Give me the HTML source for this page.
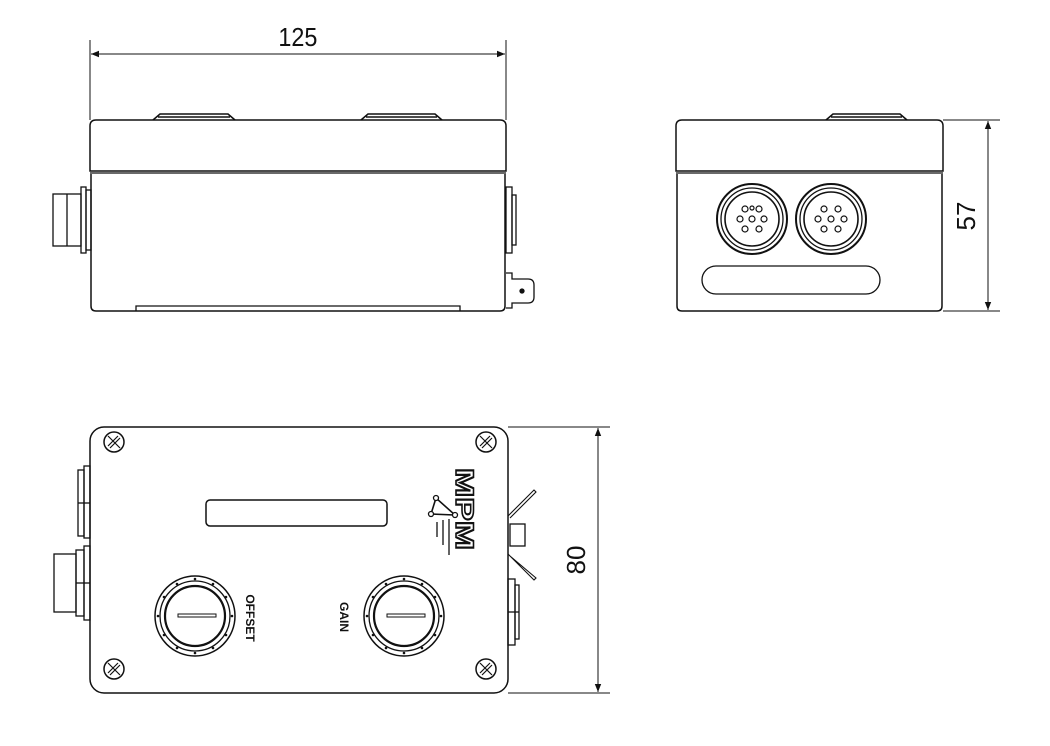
<!DOCTYPE html>
<html><head><meta charset="utf-8"><style>html,body{margin:0;padding:0;background:#fff}svg{display:block}</style></head>
<body>
<svg width="1050" height="746" viewBox="0 0 1050 746" xmlns="http://www.w3.org/2000/svg" fill="none" stroke="#111" stroke-width="1.3">
<defs>
<marker id="a" viewBox="0 0 10 10" refX="10" refY="5" markerWidth="12" markerHeight="8" orient="auto-start-reverse" markerUnits="userSpaceOnUse"><path d="M0,1 L10,5 L0,9 Z" fill="#111" stroke="none"/></marker>
</defs>
<!-- SIDE VIEW -->
<line x1="90" y1="40" x2="90" y2="120" stroke-width="1"/>
<line x1="506" y1="40" x2="506" y2="120" stroke-width="1"/>
<line x1="91" y1="54" x2="505" y2="54" stroke-width="1" marker-start="url(#a)" marker-end="url(#a)"/>
<text x="298" y="46" font-family="Liberation Sans, sans-serif" font-size="26" fill="#111" stroke="none" text-anchor="middle" transform="scale(0.9,1) translate(33,0)">125</text>
<path d="M153,120 L160,114 L228,114 L235,120 M158,117 H230 M361,120 L368,114 L435,114 L442,120 M366,117 H437" stroke-width="1.6"/>
<path d="M96,120 H500 Q506,120 506,126 V171 H90 V126 Q90,120 96,120 Z" stroke-width="1.5"/>
<line x1="90" y1="173" x2="506" y2="173"/>
<path d="M91,174 V306 Q91,311 96,311 H500 Q505,311 505,306 V174" stroke-width="1.5"/>
<path d="M136,311 V306 H460 V311"/>
<rect x="53" y="194" width="28" height="52"/><line x1="67" y1="194" x2="67" y2="246"/>
<rect x="81" y="187" width="5" height="66"/><rect x="86" y="190" width="5" height="60"/>
<rect x="506" y="187" width="6" height="66"/><rect x="512" y="195" width="4" height="50"/>
<path d="M506,273 H512 V279 H528 Q534,279 534,285 V297 Q534,303 528,303 H512 V308 H506"/>
<circle cx="522" cy="291" r="2" fill="#111"/>
<!-- FRONT VIEW -->
<path d="M826,120 L833,114 L900,114 L907,120 M831,117 H902" stroke-width="1.6"/>
<path d="M682,120 H937 Q943,120 943,126 V171 H676 V126 Q676,120 682,120 Z" stroke-width="1.5"/>
<line x1="676" y1="173" x2="943" y2="173"/>
<path d="M677,174 V306 Q677,311 682,311 H937 Q942,311 942,306 V174" stroke-width="1.5"/>
<circle cx="752" cy="219" r="35" stroke-width="2"/><circle cx="752" cy="219" r="31"/><circle cx="752" cy="219" r="27" stroke-width="1.6"/>
<circle cx="831" cy="219" r="35" stroke-width="2"/><circle cx="831" cy="219" r="31"/><circle cx="831" cy="219" r="27" stroke-width="1.6"/>
<g stroke-width="1.2">
<circle cx="752" cy="219" r="3"/><circle cx="745" cy="209" r="3"/><circle cx="759" cy="209" r="3"/><circle cx="740" cy="219" r="3"/><circle cx="764" cy="219" r="3"/><circle cx="745" cy="229" r="3"/><circle cx="759" cy="229" r="3"/><circle cx="752" cy="208" r="2"/>
<circle cx="831" cy="219" r="3"/><circle cx="824" cy="209" r="3"/><circle cx="838" cy="209" r="3"/><circle cx="818" cy="219" r="3"/><circle cx="844" cy="219" r="3"/><circle cx="824" cy="229" r="3"/><circle cx="838" cy="229" r="3"/>
</g>
<rect x="702" y="266" width="178" height="28" rx="14"/>
<line x1="943" y1="120" x2="1000" y2="120" stroke-width="1"/>
<line x1="943" y1="311" x2="1000" y2="311" stroke-width="1"/>
<line x1="988" y1="121" x2="988" y2="310" stroke-width="1" marker-start="url(#a)" marker-end="url(#a)"/>
<text font-family="Liberation Sans, sans-serif" font-size="26" fill="#111" stroke="none" text-anchor="middle" transform="translate(975,216) rotate(-90)">57</text>
<!-- TOP VIEW -->
<rect x="90" y="427" width="418" height="266" rx="14" stroke-width="1.5"/>
<g stroke-width="1.5">
<circle cx="114" cy="442" r="10"/><circle cx="486" cy="442" r="10"/><circle cx="114" cy="669" r="10"/><circle cx="486" cy="669" r="10"/>
</g>
<g stroke-width="1.2">
<path d="M108,436 L120,448 M110,448 L120,438 M108,446 L118,436"/>
<path d="M480,436 L492,448 M482,448 L492,438 M480,446 L490,436"/>
<path d="M108,663 L120,675 M110,675 L120,665 M108,673 L118,663"/>
<path d="M480,663 L492,675 M482,675 L492,665 M480,673 L490,663"/>
</g>
<rect x="206" y="500" width="181" height="26" rx="4" stroke-width="1.5"/>
<g>
<circle cx="195" cy="616" r="40" stroke-width="1.5"/><circle cx="195" cy="616" r="35"/><circle cx="195" cy="616" r="30" stroke-width="2.2"/>
<rect x="178" y="614" width="38" height="3" stroke-width="1"/>
<circle cx="404" cy="616" r="40" stroke-width="1.5"/><circle cx="404" cy="616" r="35"/><circle cx="404" cy="616" r="30" stroke-width="2.2"/>
<rect x="387" y="614" width="38" height="3" stroke-width="1"/>
</g>
<g fill="#111" stroke="none">
<circle cx="195" cy="579" r="1.3"/><circle cx="213" cy="584" r="1.3"/><circle cx="226" cy="597" r="1.3"/><circle cx="232" cy="616" r="1.3"/><circle cx="226" cy="635" r="1.3"/><circle cx="213" cy="648" r="1.3"/><circle cx="195" cy="653" r="1.3"/><circle cx="177" cy="648" r="1.3"/><circle cx="164" cy="635" r="1.3"/><circle cx="158" cy="616" r="1.3"/><circle cx="164" cy="597" r="1.3"/><circle cx="177" cy="584" r="1.3"/>
<circle cx="404" cy="579" r="1.3"/><circle cx="422" cy="584" r="1.3"/><circle cx="435" cy="597" r="1.3"/><circle cx="441" cy="616" r="1.3"/><circle cx="435" cy="635" r="1.3"/><circle cx="422" cy="648" r="1.3"/><circle cx="404" cy="653" r="1.3"/><circle cx="386" cy="648" r="1.3"/><circle cx="373" cy="635" r="1.3"/><circle cx="367" cy="616" r="1.3"/><circle cx="373" cy="597" r="1.3"/><circle cx="386" cy="584" r="1.3"/>
</g>
<text font-family="Liberation Sans, sans-serif" font-weight="bold" font-size="12" fill="#111" stroke="none" text-anchor="middle" transform="translate(246,618) rotate(90)">OFFSET</text>
<text font-family="Liberation Sans, sans-serif" font-weight="bold" font-size="12" fill="#111" stroke="none" text-anchor="middle" transform="translate(340,617) rotate(90)">GAIN</text>
<text font-family="Liberation Sans, sans-serif" font-weight="bold" font-size="25" fill="#fff" stroke="#111" stroke-width="1.6" text-anchor="middle" transform="translate(456,509) rotate(90)" textLength="82" lengthAdjust="spacingAndGlyphs">MPM</text>
<path d="M436,498 L431,514 L455,515 Z" stroke-width="1.6"/>
<circle cx="436" cy="498" r="2.5" fill="#fff"/><circle cx="431" cy="514" r="2.5" fill="#fff"/><circle cx="455" cy="515" r="2.5" fill="#fff"/>
<path d="M437,522 V537 M443,520 V545 M449,519 V555" stroke-width="1.3"/>
<rect x="78" y="470" width="6" height="66"/><rect x="84" y="466" width="6" height="72"/><line x1="78" y1="503" x2="90" y2="503"/>
<rect x="54" y="554" width="22" height="58"/><rect x="76" y="550" width="8" height="66"/><rect x="84" y="546" width="6" height="74"/><line x1="76" y1="583" x2="90" y2="583"/>
<path d="M508,516 L534,490 L536,492 L510,518 M508,554 L534,580 L536,578 L510,556" stroke-width="1.1"/>
<rect x="510" y="524" width="15" height="22"/>
<rect x="508" y="579" width="7" height="66"/><rect x="515" y="585" width="4" height="54"/><line x1="508" y1="612" x2="519" y2="612"/>
<line x1="508" y1="427" x2="610" y2="427" stroke-width="1"/>
<line x1="508" y1="693" x2="610" y2="693" stroke-width="1"/>
<line x1="598" y1="428" x2="598" y2="692" stroke-width="1" marker-start="url(#a)" marker-end="url(#a)"/>
<text font-family="Liberation Sans, sans-serif" font-size="26" fill="#111" stroke="none" text-anchor="middle" transform="translate(585,560) rotate(-90)">80</text>
</svg>
</body></html>
